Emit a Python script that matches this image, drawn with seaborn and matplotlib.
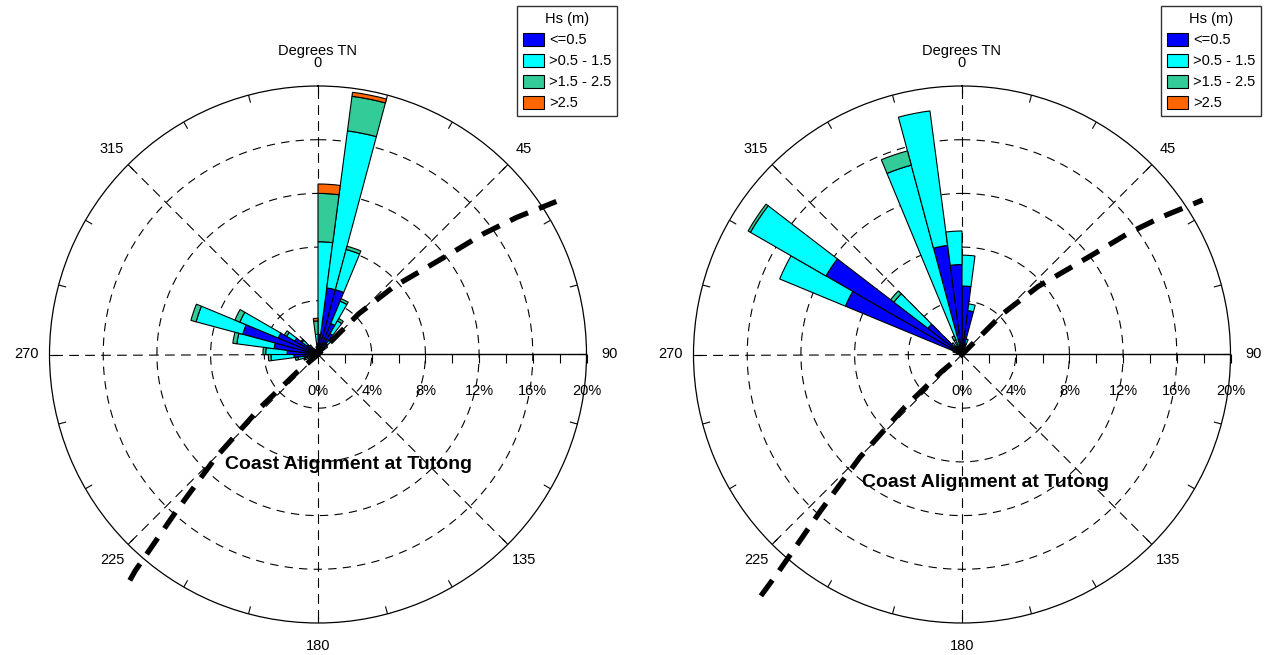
import numpy as np
import matplotlib
matplotlib.use("Agg")
import matplotlib.pyplot as plt
from matplotlib.patches import Patch
from matplotlib.markers import TICKDOWN
import seaborn as sns

# Hs classes (m) and their colours
classes = ["<=0.5", ">0.5 - 1.5", ">1.5 - 2.5", ">2.5"]
class_colors = ["#0000FF", "#00FFFF", "#33CC99", "#FF6600"]

# left rose: sector start (deg TN) and % occurrence per Hs class
left_dirs = [0, 7.5, 15, 22.5, 30, 37.5, 45, 52.5, 60, 232.5, 240, 247.5, 255, 262.5,
             270, 277.5, 285, 292.5, 300, 307.5, 315, 322.5, 330, 337.5, 345, 352.5]
left_le05 = [1.5, 5.0, 5.0, 2.5, 1.8, 1.0, 0.6, 0.3, 0.2, 0.2, 0.3, 0.6, 1.0, 1.8,
             2.3, 3.3, 5.8, 3.2, 2.0, 1.0, 0.6, 0.4, 0.3, 0.3, 0.4, 0.8]
left_05_15 = [6.9, 11.8, 3.1, 1.8, 1.1, 0.5, 0.3, 0.1, 0.05, 0.1, 0.2, 0.4, 0.5, 1.7,
              1.6, 2.8, 3.6, 3.1, 0.7, 0.5, 0.3, 0.1, 0.1, 0.1, 0.2, 0.7]
left_15_25 = [3.6, 2.6, 0.25, 0.2, 0.2, 0.1, 0, 0, 0, 0, 0, 0.1, 0.2, 0.2,
              0.2, 0.3, 0.4, 0.4, 0.2, 0.1, 0, 0, 0, 0, 0, 1.0]
left_gt25 = [0.7, 0.3, 0, 0, 0, 0, 0, 0, 0, 0, 0, 0, 0, 0,
             0, 0, 0, 0, 0, 0, 0, 0, 0, 0, 0, 0.2]

# right rose
right_dirs = [0, 7.5, 15, 22.5, 30, 270, 277.5, 285, 292.5, 300, 307.5, 315, 322.5,
              330, 337.5, 345, 352.5]
right_le05 = [5.1, 3.3, 0.8, 0.3, 0.2, 0.2, 0.3, 0.5, 9.4, 11.7, 3.2, 0.8, 0.5,
              0.6, 0.5, 8.2, 6.7]
right_05_15 = [2.3, 0.5, 0.4, 0.1, 0, 0.1, 0.1, 0.2, 5.3, 6.5, 3.2, 0.3, 0.2,
               0.6, 14.1, 10.1, 2.5]
right_15_25 = [0, 0, 0, 0, 0, 0, 0, 0, 0, 0.2, 0.3, 0, 0,
               0.3, 1.1, 0, 0]
right_gt25 = [0] * len(right_dirs)

# coast alignment at Tutong (deg TN, % radius)
coast_theta = [219.8, 220.2, 222.1, 224.8, 227.4, 229.9, 232, 44, 45, 48.2, 51.2,
               52.9, 53.9, 55.4, 57.3]
coast_r_left = [21.9, 21.1, 15.8, 10.8, 5.8, 2.0, 0, 0, 4.3, 7.6, 10.2, 12.8, 15.3, 18.0, 21.1]
coast_r_right = [23.4, 21.1, 15.8, 10.8, 5.8, 2.0, 0, 0, 4.3, 7.6, 10.2, 12.8, 15.3, 18.0, 21.3]

ring_values = [4, 8, 12, 16]
pct_labels = [0, 4, 8, 12, 16, 20]
angle_labels = [0, 45, 90, 135, 180, 225, 270, 315]
sector = 7.5
rmax = 20

sns.set_theme(style="white")
plt.rcParams["font.family"] = ["Liberation Sans", "DejaVu Sans"]
plt.rcParams["lines.scale_dashes"] = False
plt.rcParams["text.color"] = "black"
plt.rcParams["legend.labelcolor"] = "black"

fig = plt.figure(figsize=(12.71, 6.55), dpi=100)

dash_ring = (0, (6, 4.5))
dash_spoke = (0, (7, 4.5))


def draw_rose(ax, dirs, layers, coast_r, text_xy):
    ax.set_theta_zero_location("N")
    ax.set_theta_direction(-1)
    ax.set_ylim(0, rmax)
    ax.set_xticks([])
    ax.set_yticks([])
    ax.grid(False)
    ax.set_facecolor("white")
    ax.spines["polar"].set_linewidth(0.9)
    ax.spines["polar"].set_color("black")

    full = np.linspace(0, 2 * np.pi, 721)
    for r in ring_values:
        ax.plot(full, np.full_like(full, r), color="black", lw=0.8, ls=dash_ring, zorder=1)
    for a in range(0, 360, 45):
        t = np.deg2rad(a)
        if a == 90:
            ax.plot([t, t], [0, rmax], color="black", lw=1.0, zorder=1)
        else:
            ax.plot([t, t], [0, rmax], color="black", lw=0.8, ls=dash_spoke, zorder=1)

    # short inward ticks on the rim every 15 deg
    for a in range(0, 360, 15):
        t = np.deg2rad(a)
        ax.plot([t, t], [rmax - 0.55, rmax], color="black", lw=0.8, zorder=2)

    # radial scale ticks along the 90 deg spoke
    rt = np.arange(2, rmax + 0.1, 2)
    ax.plot(np.full_like(rt, np.pi / 2), rt, ls="none", marker=TICKDOWN,
            markersize=6.5, markeredgewidth=0.8, color="black", clip_on=False, zorder=2)

    th = np.deg2rad(dirs)
    bottom = np.zeros(len(dirs))
    for vals, col in zip(layers, class_colors):
        vals = np.asarray(vals, dtype=float)
        keep = vals > 0
        ax.bar(th[keep], vals[keep], width=np.deg2rad(sector), bottom=bottom[keep],
               align="edge", color=col, edgecolor="black", linewidth=0.8, zorder=3)
        bottom += vals

    ax.plot(np.deg2rad(coast_theta), coast_r, color="black", lw=3.8,
            ls=(0, (14, 8.5)), clip_on=False, zorder=4, dash_capstyle="butt")

    for a in angle_labels:
        ax.text(np.deg2rad(a), 21.7, str(a), ha="center", va="center",
                fontsize=10.5, color="black", clip_on=False)
    ax.text(0, 22.6, "Degrees TN", ha="center", va="center", fontsize=10.5,
            color="black", clip_on=False)

    for p in pct_labels:
        ax.annotate(f"{p}%", xy=(np.pi / 2, p), xytext=(0, -26), textcoords="offset points",
                    ha="center", va="center", fontsize=10.5, color="black",
                    annotation_clip=False)

    ax.text(text_xy[0], text_xy[1], "Coast Alignment at Tutong", transform=ax.transAxes,
            ha="center", va="center", fontsize=14, fontweight="bold", color="black", zorder=5)

    handles = [Patch(facecolor=c, edgecolor="black", linewidth=0.8) for c in class_colors]
    pos = ax.get_position()
    leg = ax.legend(handles, classes, title="Hs (m)", loc="upper left",
                    bbox_to_anchor=(pos.x0 + 467.2 / 1271, 1 - 6.3 / 655),
                    bbox_transform=fig.transFigure, fontsize=10.5, title_fontsize=10.5,
                    frameon=True, fancybox=False, framealpha=1, edgecolor="#333333",
                    handlelength=1.5, handleheight=1.0, labelspacing=0.45,
                    handletextpad=0.3, borderpad=0.4, borderaxespad=0)
    leg.get_frame().set_linewidth(1.0)
    leg.get_title().set_color("black")


ax_left = fig.add_axes([49.5 / 1271, 32 / 655, 537 / 1271, 537 / 655], projection="polar")
ax_right = fig.add_axes([693.5 / 1271, 32 / 655, 537 / 1271, 537 / 655], projection="polar")

draw_rose(ax_left, left_dirs, [left_le05, left_05_15, left_15_25, left_gt25],
          coast_r_left, (0.556, 0.296))
draw_rose(ax_right, right_dirs, [right_le05, right_05_15, right_15_25, right_gt25],
          coast_r_right, (0.543, 0.261))

fig.savefig("out.png", dpi=100, facecolor="white")
